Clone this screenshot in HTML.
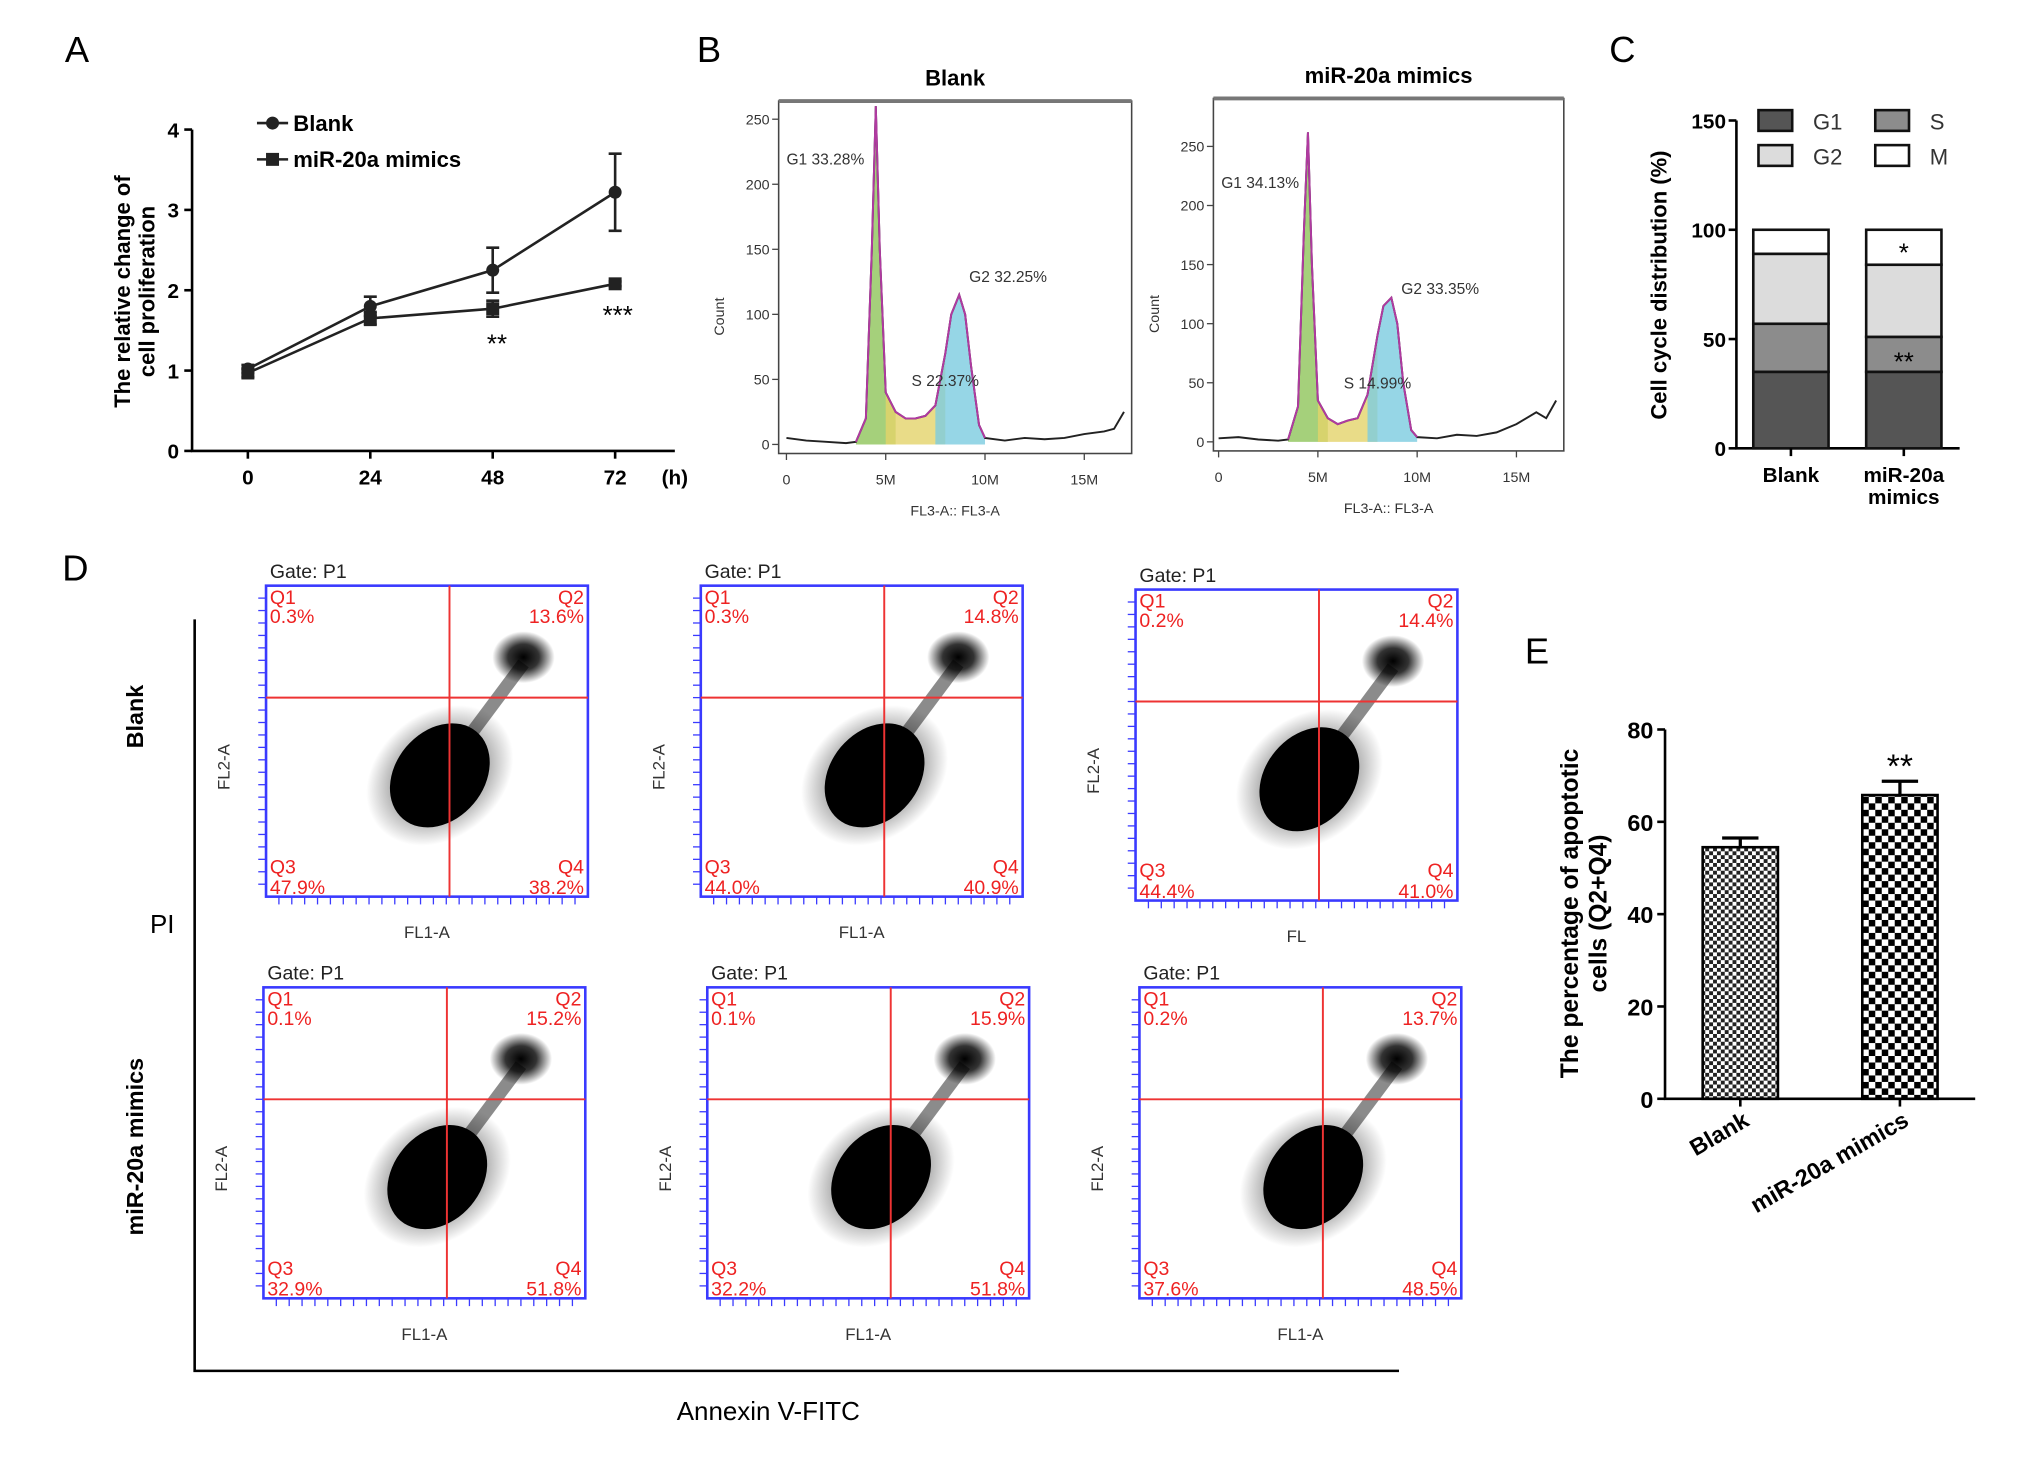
<!DOCTYPE html>
<html><head><meta charset="utf-8"><style>
html,body{margin:0;padding:0;background:#fff}
svg{display:block}
text{font-family:"Liberation Sans",Arial,sans-serif}
</style></head><body>
<svg id="fig" width="2031" height="1459" viewBox="0 0 1565 1126" preserveAspectRatio="none" xmlns="http://www.w3.org/2000/svg">
<defs>
<pattern id="chk1" width="6" height="6" patternUnits="userSpaceOnUse"><rect width="6" height="6" fill="#fff"/><rect width="3" height="3" fill="#222"/><rect x="3" y="3" width="3" height="3" fill="#222"/></pattern>
<pattern id="chk2" width="10" height="10" patternUnits="userSpaceOnUse"><rect width="10" height="10" fill="#fff"/><rect width="5" height="5" fill="#000"/><rect x="5" y="5" width="5" height="5" fill="#000"/></pattern>
<radialGradient id="blob"><stop offset="0" stop-color="#000"/><stop offset="0.5" stop-color="#000" stop-opacity="0.8"/><stop offset="1" stop-color="#000" stop-opacity="0"/></radialGradient>
</defs>
<g id="panelA"></g>
<g id="panelB"></g>
<g id="panelC"></g>
<g id="panelD"></g>
<g id="panelE"></g>
</svg>
<script>
// Panel A data
const aHours=[0,24,48,72];
const aBlank=[1.02,1.8,2.25,3.22];
const aBlankErr=[0.05,0.12,0.28,0.48];
const aMimic=[0.97,1.65,1.77,2.08];
const aMimicErr=[0.05,0.08,0.1,0.03];
const aYTicks=[0,1,2,3,4];
// Panel B data
const bX=[0,1,2,3,3.5,4,4.3,4.5,4.7,5,5.5,6,6.5,7,7.5,8,8.3,8.7,9,9.3,9.7,10,11,12,13,14,15,16,16.5,17];
const bBlank=[5,3,2,1,2,20,150,260,150,40,25,20,20,22,30,70,100,115,100,60,15,5,3,5,4,5,8,10,12,25];
const bMimic=[3,4,2,1,2,30,180,262,150,35,20,15,18,20,40,90,115,122,100,50,10,4,3,6,5,8,15,25,20,35];
const bYTicks=[0,50,100,150,200,250];
const bXTicks=[0,5,10,15];
// Panel C data
const cGroups=["Blank","miR-20a mimics"];
const cG1=[35,35];const cS=[22,16];const cG2=[32,33];const cM=[11,16];
const cYTicks=[0,50,100,150];
// Panel D data
const dQ1=["0.3%","0.3%","0.2%","0.1%","0.1%","0.2%"];
const dQ2=["13.6%","14.8%","14.4%","15.2%","15.9%","13.7%"];
const dQ3=["47.9%","44.0%","44.4%","32.9%","32.2%","37.6%"];
const dQ4=["38.2%","40.9%","41.0%","51.8%","51.8%","48.5%"];
// Panel E data
const eGroups=["Blank","miR-20a mimics"];
const eVals=[54.5,65.8];
const eErr=[2,3];
const eYTicks=[0,20,40,60,80];

const NS="http://www.w3.org/2000/svg";
function mk(p,t,a,txt){const e=document.createElementNS(NS,t);for(const k in a)e.setAttribute(k,a[k]);if(txt!==undefined)e.textContent=txt;p.appendChild(e);return e;}

// ---------- Panel A
(function(){
const g=document.getElementById('panelA');
const X=h=>191+h*(474-191)/72, Y=v=>348-v*62;
let t=mk(g,'text',{x:50,y:48,'font-size':28},'A');

let ax=mk(g,'path',{d:'M148,100V348H520',stroke:'#000','stroke-width':2,fill:'none'});

aYTicks.forEach(v=>{mk(g,'line',{x1:142,x2:148,y1:Y(v),y2:Y(v),stroke:'#000','stroke-width':2});
 const l=mk(g,'text',{x:138,y:Y(v)+6,'font-size':16,'font-weight':'bold','text-anchor':'end'},v);
 });
aHours.forEach(h=>{mk(g,'line',{x1:X(h),x2:X(h),y1:348,y2:354,stroke:'#000','stroke-width':2});
 const l=mk(g,'text',{x:X(h),y:374,'font-size':16,'font-weight':'bold','text-anchor':'middle'},h);
 });
mk(g,'text',{x:520,y:374,'font-size':16,'font-weight':'bold','text-anchor':'middle'},'(h)');
const yt=mk(g,'text',{transform:'translate(100,225) rotate(-90)','font-size':17,'font-weight':'bold','text-anchor':'middle'});

mk(yt,'tspan',{x:0,dy:0},'The relative change of');mk(yt,'tspan',{x:0,dy:19},'cell proliferation');
function series(vals,err,name,sq){
 const pts=vals.map((v,i)=>X(aHours[i])+','+Y(v)).join(' ');
 const l=mk(g,'polyline',{points:pts,fill:'none',stroke:'#222','stroke-width':2});
 
 vals.forEach((v,i)=>{const x=X(aHours[i]);
  mk(g,'path',{d:`M${x},${Y(v+err[i])}V${Y(v-err[i])}M${x-5},${Y(v+err[i])}H${x+5}M${x-5},${Y(v-err[i])}H${x+5}`,stroke:'#222','stroke-width':2,fill:'none'});
  const m=sq?mk(g,'rect',{x:x-5,y:Y(v)-5,width:10,height:10,fill:'#222'}):mk(g,'circle',{cx:x,cy:Y(v),r:5,fill:'#222'});
  });
}
series(aBlank,aBlankErr,'blank',false);series(aMimic,aMimicErr,'mimics',true);
mk(g,'text',{x:383,y:272,'font-size':20,'text-anchor':'middle'},'**');
mk(g,'text',{x:476,y:250,'font-size':20,'text-anchor':'middle'},'***');
const lg=mk(g,'g',{});
mk(lg,'line',{x1:198,x2:222,y1:95,y2:95,stroke:'#222','stroke-width':2});mk(lg,'circle',{cx:210,cy:95,r:5,fill:'#222'});
mk(lg,'text',{x:226,y:101,'font-size':17,'font-weight':'bold'},'Blank');
mk(lg,'line',{x1:198,x2:222,y1:123,y2:123,stroke:'#222','stroke-width':2});mk(lg,'rect',{x:205,y:118,width:10,height:10,fill:'#222'});
mk(lg,'text',{x:226,y:129,'font-size':17,'font-weight':'bold'},'miR-20a mimics');
})();

// ---------- Panel B
(function(){
const g=document.getElementById('panelB');
mk(g,'text',{x:537,y:48,'font-size':28},'B');
function hist(x0,x1,top,bot,y250,zeroX,tenX,vals,title,lab,s,g2){
 const X=v=>zeroX+v*(tenX-zeroX)/10, Y=v=>bot-7-v*(bot-7-y250)/250;
 mk(g,'rect',{x:x0,y:top,width:x1-x0,height:bot-top,fill:'#fff',stroke:'#444','stroke-width':1.2});
 mk(g,'line',{x1:x0,x2:x1,y1:top,y2:top,stroke:'#777','stroke-width':3});
 const tt=mk(g,'text',{x:(x0+x1)/2,y:top-12,'font-size':17,'font-weight':'bold','text-anchor':'middle'},title);
 
 bYTicks.forEach(v=>{mk(g,'line',{x1:x0-5,x2:x0,y1:Y(v),y2:Y(v),stroke:'#444'});mk(g,'text',{x:x0-7,y:Y(v)+4,'font-size':11,'text-anchor':'end',fill:'#333'},v);});
 bXTicks.forEach(v=>{mk(g,'line',{x1:X(v),x2:X(v),y1:bot,y2:bot+5,stroke:'#444'});mk(g,'text',{x:X(v),y:bot+24,'font-size':11,'text-anchor':'middle',fill:'#333'},v?v+'M':'0');});
 mk(g,'text',{x:(x0+x1)/2,y:bot+48,'font-size':11,'text-anchor':'middle',fill:'#333'},'FL3-A:: FL3-A');
 mk(g,'text',{transform:`translate(${x0-42},${(top+bot)/2+45}) rotate(-90)`,'font-size':11,fill:'#333'},'Count');
 const area=(a,b,col)=>{let d=`M${X(a)},${Y(0)}`;bX.forEach((v,i)=>{if(v>=a&&v<=b)d+=`L${X(v)},${Y(vals[i])}`;});d+=`L${X(b)},${Y(0)}Z`;mk(g,'path',{d,fill:col,opacity:0.8});};
 area(3.5,5.5,'#8fc45a');area(5,8,'#e4d36a');area(7.5,10,'#7ccce0');
 const pts=bX.map((v,i)=>X(v)+','+Y(vals[i])).join(' ');
 const p=mk(g,'polyline',{points:pts,fill:'none',stroke:'#222','stroke-width':1.5});
 
 mk(g,'polyline',{points:bX.filter(v=>v>=3.5&&v<=10).map(v=>X(v)+','+Y(vals[bX.indexOf(v)])).join(' '),fill:'none',stroke:'#b03aa0','stroke-width':1.5});
 mk(g,'text',{x:x0+6,y:Y(215),'font-size':12,fill:'#333'},lab);
 mk(g,'text',{x:X(6.3),y:Y(45),'font-size':12,fill:'#333'},s);
 mk(g,'text',{x:X(9.2),y:Y(125),'font-size':12,fill:'#333'},g2);
}
hist(600,872,78,350,92,606,759,bBlank,'Blank','G1 33.28%','S 22.37%','G2 32.25%');
hist(935,1205,76,348,113,939,1092,bMimic,'miR-20a mimics','G1 34.13%','S 14.99%','G2 33.35%');
})();

// ---------- Panel C
(function(){
const g=document.getElementById('panelC');
const Y=v=>346-v*(346-93)/150;
mk(g,'text',{x:1240,y:48,'font-size':28},'C');
mk(g,'path',{d:'M1338,93V346H1510',stroke:'#000','stroke-width':2,fill:'none'});
cYTicks.forEach(v=>{mk(g,'line',{x1:1332,x2:1338,y1:Y(v),y2:Y(v),stroke:'#000','stroke-width':2});mk(g,'text',{x:1330,y:Y(v)+6,'font-size':16,'font-weight':'bold','text-anchor':'end'},v);});
const yt=mk(g,'text',{transform:'translate(1284,220) rotate(-90)','font-size':17,'font-weight':'bold','text-anchor':'middle'},'Cell cycle distribution (%)');

const cols=['#555','#8c8c8c','#dcdcdc','#fff'];const cx=[1380,1467];
cGroups.forEach((gn,i)=>{let base=0;[cG1,cS,cG2,cM].forEach((arr,k)=>{
 const r=mk(g,'rect',{x:cx[i]-29,y:Y(base+arr[i]),width:58,height:Y(base)-Y(base+arr[i]),fill:cols[k],stroke:'#111','stroke-width':2});
 base+=arr[i];});
 mk(g,'line',{x1:cx[i],x2:cx[i],y1:346,y2:352,stroke:'#000','stroke-width':2});});
mk(g,'text',{x:1380,y:372,'font-size':16,'font-weight':'bold','text-anchor':'middle'},'Blank');
mk(g,'text',{x:1467,y:372,'font-size':16,'font-weight':'bold','text-anchor':'middle'},'miR-20a');
mk(g,'text',{x:1467,y:389,'font-size':16,'font-weight':'bold','text-anchor':'middle'},'mimics');
mk(g,'text',{x:1467,y:202,'font-size':20,'text-anchor':'middle'},'*');
mk(g,'text',{x:1467,y:286,'font-size':20,'text-anchor':'middle'},'**');
const lg=mk(g,'g',{});
[['G1',1355,85,0],['S',1445,85,1],['G2',1355,112,2],['M',1445,112,3]].forEach(a=>{mk(lg,'rect',{x:a[1],y:a[2],width:26,height:16,fill:cols[a[3]],stroke:'#111','stroke-width':2});mk(lg,'text',{x:a[1]+42,y:a[2]+15,'font-size':17,fill:'#333'},a[0]);});
})();

// ---------- Panel D
(function(){
const g=document.getElementById('panelD');
mk(g,'text',{x:48,y:448,'font-size':28},'D');
mk(g,'path',{d:'M150,478V1058H1078',stroke:'#000','stroke-width':2,fill:'none'});
mk(g,'text',{x:125,y:720,'font-size':20,'text-anchor':'middle'},'PI');
const xt=mk(g,'text',{x:592,y:1096,'font-size':20,'text-anchor':'middle'},'Annexin V-FITC');

mk(g,'text',{transform:'translate(110,553) rotate(-90)','font-size':18,'font-weight':'bold','text-anchor':'middle'},'Blank');
mk(g,'text',{transform:'translate(110,885) rotate(-90)','font-size':18,'font-weight':'bold','text-anchor':'middle'},'miR-20a mimics');
const boxes=[[205,452],[540,452],[875,455],[203,762],[545,762],[878,762]];
boxes.forEach((b,i)=>{const [x,y]=b,w=248,h=240;
 const sg=mk(g,'g',{});
 mk(sg,'text',{x:x+3,y:y-6,'font-size':15,fill:'#222'},'Gate: P1');
 const cx=x+0.54*w, cy=y+0.61*h;
 mk(sg,'ellipse',{cx,cy,rx:62,ry:48,fill:'url(#blob)',opacity:0.55,transform:`rotate(-40 ${cx} ${cy})`});
 mk(sg,'ellipse',{cx,cy,rx:44,ry:34,fill:'#000',transform:`rotate(-50 ${cx} ${cy})`});
 mk(sg,'path',{d:`M${cx+15},${cy-20}L${x+0.8*w},${y+0.25*h}`,stroke:'#000','stroke-width':10,opacity:0.45});
 mk(sg,'ellipse',{cx:x+0.8*w,cy:y+0.23*h,rx:24,ry:20,fill:'url(#blob)'});
 mk(sg,'rect',{x,y,width:w,height:h,fill:'none',stroke:'#3a3aff','stroke-width':2});
 for(let k=1;k<25;k++){mk(sg,'line',{x1:x+k*w/25,x2:x+k*w/25,y1:y+h,y2:y+h+6,stroke:'#3a3aff'});mk(sg,'line',{x1:x-6,x2:x,y1:y+k*h/25,y2:y+k*h/25,stroke:'#3a3aff'});}
 mk(sg,'line',{x1:x+0.57*w,x2:x+0.57*w,y1:y,y2:y+h,stroke:'#e33','stroke-width':1.5});
 mk(sg,'line',{x1:x,x2:x+w,y1:y+0.36*h,y2:y+0.36*h,stroke:'#e33','stroke-width':1.5});
 const red={'font-size':15,fill:'#e22'};
 mk(sg,'text',Object.assign({x:x+3,y:y+14},red),'Q1');mk(sg,'text',Object.assign({x:x+3,y:y+29},red),dQ1[i]);
 mk(sg,'text',Object.assign({x:x+w-3,y:y+14,'text-anchor':'end'},red),'Q2');mk(sg,'text',Object.assign({x:x+w-3,y:y+29,'text-anchor':'end'},red),dQ2[i]);
 mk(sg,'text',Object.assign({x:x+3,y:y+h-18},red),'Q3');mk(sg,'text',Object.assign({x:x+3,y:y+h-2},red),dQ3[i]);
 mk(sg,'text',Object.assign({x:x+w-3,y:y+h-18,'text-anchor':'end'},red),'Q4');mk(sg,'text',Object.assign({x:x+w-3,y:y+h-2,'text-anchor':'end'},red),dQ4[i]);
 mk(sg,'text',{x:x+w/2,y:y+h+32,'font-size':13,'text-anchor':'middle',fill:'#333'},i==2?'FL':'FL1-A');
 mk(sg,'text',{transform:`translate(${x-28},${y+h/2+20}) rotate(-90)`,'font-size':13,'text-anchor':'middle',fill:'#333'},'FL2-A');
});
})();

// ---------- Panel E
(function(){
const g=document.getElementById('panelE');
const Y=v=>848-v*(848-563)/80;
mk(g,'text',{x:1175,y:512,'font-size':28},'E');
mk(g,'path',{d:'M1283,563V848H1522',stroke:'#000','stroke-width':2,fill:'none'});
eYTicks.forEach(v=>{mk(g,'line',{x1:1277,x2:1283,y1:Y(v),y2:Y(v),stroke:'#000','stroke-width':2});mk(g,'text',{x:1274,y:Y(v)+7,'font-size':18,'font-weight':'bold','text-anchor':'end'},v);});
const yt=mk(g,'text',{transform:'translate(1216,705) rotate(-90)','font-size':19,'font-weight':'bold','text-anchor':'middle'});

mk(yt,'tspan',{x:0,dy:0},'The percentage of apoptotic');mk(yt,'tspan',{x:0,dy:22},'cells (Q2+Q4)');
const cx=[1341,1464],fills=['url(#chk1)','url(#chk2)'];
eGroups.forEach((n,i)=>{const x=cx[i];
 const r=mk(g,'rect',{x:x-29,y:Y(eVals[i]),width:58,height:Y(0)-Y(eVals[i]),fill:fills[i],stroke:'#000','stroke-width':2});
 
 mk(g,'path',{d:`M${x},${Y(eVals[i])}V${Y(eVals[i]+eErr[i])}M${x-14},${Y(eVals[i]+eErr[i])}H${x+14}`,stroke:'#000','stroke-width':2.5});
 mk(g,'line',{x1:x,x2:x,y1:848,y2:854,stroke:'#000','stroke-width':2});
 mk(g,'text',{transform:`translate(${x+8},${868}) rotate(-30)`,'font-size':18,'font-weight':'bold','text-anchor':'end'},n);
});
mk(g,'text',{x:1464,y:600,'font-size':26,'text-anchor':'middle'},'**');
})();
</script>
</body></html>
